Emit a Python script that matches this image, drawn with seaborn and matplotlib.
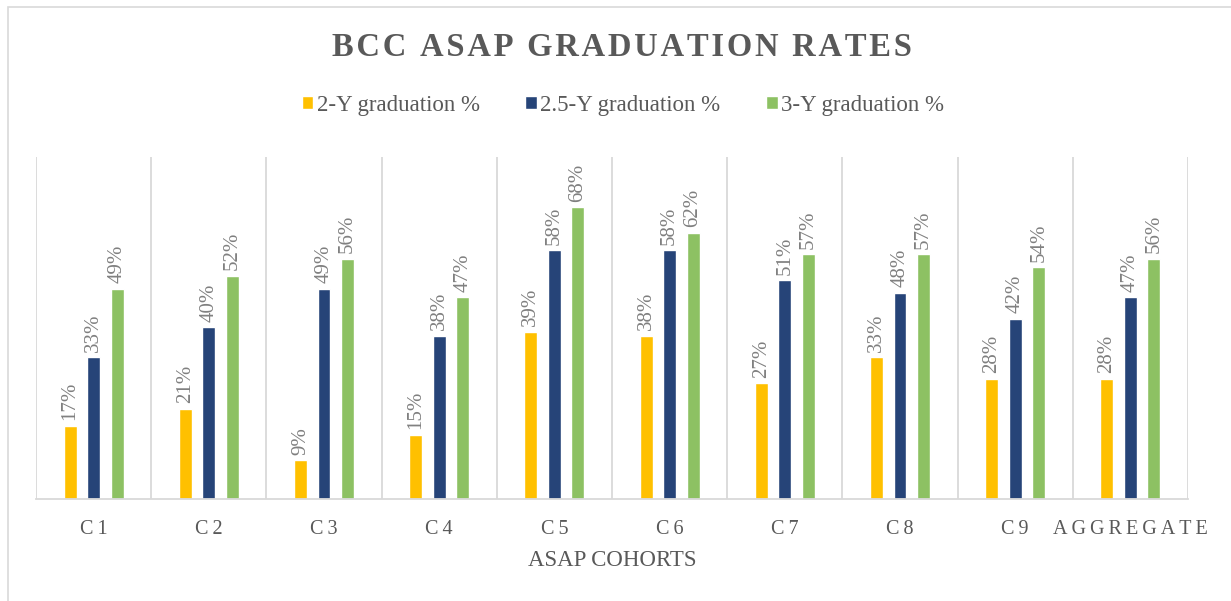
import matplotlib.pyplot as plt
import seaborn as sns
import pandas as pd
from matplotlib.patches import Rectangle

cohorts = ["C1", "C2", "C3", "C4", "C5", "C6", "C7", "C8", "C9", "AGGREGATE"]
series = ["2-Y graduation %", "2.5-Y graduation %", "3-Y graduation %"]
grad_2y = [17, 21, 9, 15, 39, 38, 27, 33, 28, 28]
grad_25y = [33, 40, 49, 38, 58, 58, 51, 48, 42, 47]
grad_3y = [49, 52, 56, 47, 68, 62, 57, 57, 54, 56]
colors = ["#FFC000", "#264478", "#8DC163"]

df = pd.DataFrame({
    "cohort": cohorts * 3,
    "series": [s for s in series for _ in cohorts],
    "value": grad_2y + grad_25y + grad_3y,
})

TXT = "#595959"
LBL = "#808080"


def spaced(s, sep="\u2009", gap=" "):
    return gap.join(sep.join(w) for w in s.split(" "))


sns.set_style("white")
plt.rcParams["font.family"] = ["Liberation Serif", "DejaVu Serif"]

fig = plt.figure(figsize=(12.31, 6.01), dpi=100)
ax = fig.add_axes([36 / 1231, 102 / 601, 1152 / 1231, 342 / 601])

sns.barplot(data=df, x="cohort", y="value", hue="series", palette=colors,
            width=0.612, gap=0.45, ax=ax, legend=True, saturation=1)

for cont in ax.containers:
    ax.bar_label(cont, labels=[f"{v:.0f}%" for v in cont.datavalues],
                 rotation=90, padding=4, fontsize=15, color=LBL)

ax.set_ylim(0, 79.7)
ax.set_xlim(-0.5, len(cohorts) - 0.5)
ax.set_yticks([])
ax.set_ylabel("")
for x in range(len(cohorts) + 1):
    ax.axvline(x - 0.5, color="#D9D9D9", lw=1.3, zorder=0)
for sp in ["top", "right", "left"]:
    ax.spines[sp].set_visible(False)
ax.spines["bottom"].set_color("#D9D9D9")
ax.spines["bottom"].set_linewidth(1.3)

ax.set_xticks(range(len(cohorts)))
ax.set_xticklabels([spaced(c) for c in cohorts], fontsize=14.5, color=TXT)
ax.tick_params(axis="x", length=0, pad=15)
ax.set_xlabel("ASAP COHORTS", fontsize=16.5, color=TXT, labelpad=8)

handles, labels = ax.get_legend_handles_labels()
ax.legend(handles, labels, loc="center", bbox_to_anchor=(0.506, 1 - 105 / 601),
          bbox_transform=fig.transFigure, ncol=3, frameon=False, fontsize=16.5,
          labelcolor=TXT, handlelength=0.5, handleheight=0.5,
          handletextpad=0.15, columnspacing=2.0)

fig.text(0.505, 1 - 48 / 601,
         spaced("BCC ASAP GRADUATION RATES", "\u200a", "\u200a \u200a"),
         ha="center", va="center", fontsize=23.5, fontweight="bold", color=TXT)

fig.patches.append(Rectangle((8 / 1231, -0.01), 1.1, 1 - 7 / 601 + 0.01,
                             transform=fig.transFigure, fill=False,
                             edgecolor="#D9D9D9", lw=1.2))

fig.savefig("out.png", dpi=100)
